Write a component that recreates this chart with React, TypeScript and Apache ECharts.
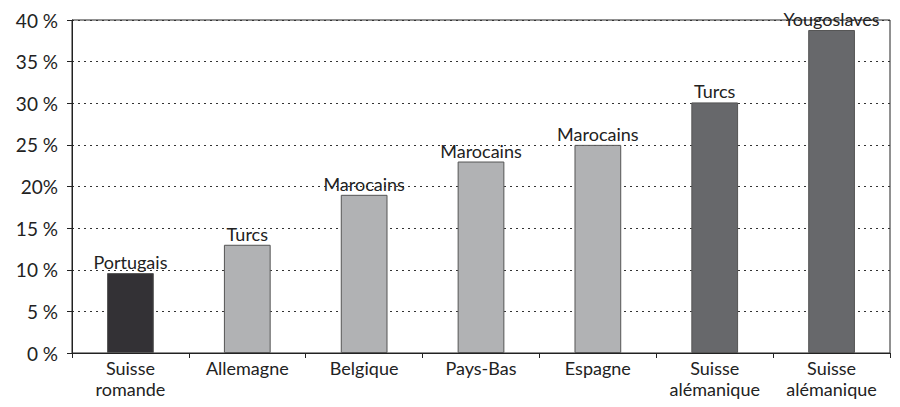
import React, { useEffect, useRef } from "react";
import * as echarts from "echarts";

const categories = [
  "Suisse\nromande",
  "Allemagne",
  "Belgique",
  "Pays-Bas",
  "Espagne",
  "Suisse\nalémanique",
  "Suisse\nalémanique",
];
const groups = ["Portugais", "Turcs", "Marocains", "Marocains", "Marocains", "Turcs", "Yougoslaves"];
const values = [9.6, 13, 19, 23, 25, 30.1, 38.8];
const barColors = ["#333135", "#b1b2b4", "#b1b2b4", "#b1b2b4", "#b1b2b4", "#67686b", "#67686b"];
const yTickLabels: Record<number, string> = {
  0: "0 %",
  5: "5 %",
  10: "10 %",
  15: "15 %",
  20: "20%",
  25: "25 %",
  30: "30 %",
  35: "35 %",
  40: "40 %",
};

const FONT = "Lato";

export default function App() {
  const ref = useRef<HTMLDivElement>(null);
  useEffect(() => {
    if (!ref.current) return;
    const chart = echarts.init(ref.current, undefined, { renderer: "svg" });
    chart.setOption({
      animation: false,
      grid: {
        left: 64,
        right: 2,
        top: 12,
        bottom: 43,
        show: true,
        borderColor: "#222",
        borderWidth: 1,
      },
      xAxis: {
        type: "category",
        data: categories,
        axisLine: { lineStyle: { color: "#222", width: 1 } },
        axisTick: { show: true, length: 5, lineStyle: { color: "#222" } },
        axisLabel: {
          color: "#222",
          fontFamily: FONT,
          fontSize: 18,
          lineHeight: 21,
          margin: 4,
          interval: 0,
        },
      },
      yAxis: {
        type: "value",
        min: 0,
        max: 40,
        interval: 5,
        axisLine: { show: true, lineStyle: { color: "#222", width: 1 } },
        axisTick: { show: true, length: 5, lineStyle: { color: "#222" } },
        axisLabel: {
          color: "#222",
          fontFamily: FONT,
          fontSize: 19,
          margin: 14,
          formatter: (v: number) => yTickLabels[v] ?? String(v),
        },
        splitLine: {
          show: true,
          lineStyle: { color: "#333", type: [2, 4], width: 1 },
        },
      },
      series: [
        {
          type: "bar",
          barWidth: "40%",
          data: values.map((v, i) => ({
            value: v,
            itemStyle: { color: barColors[i], borderColor: "#555", borderWidth: 1 },
          })),
          label: {
            show: true,
            position: "top",
            distance: 2,
            color: "#222",
            fontFamily: FONT,
            fontSize: 18,
            formatter: (p: any) => groups[p.dataIndex],
          },
        },
      ],
    });
    return () => chart.dispose();
  }, []);
  return <div ref={ref} style={{ width: 884, height: 391 }} />;
}
